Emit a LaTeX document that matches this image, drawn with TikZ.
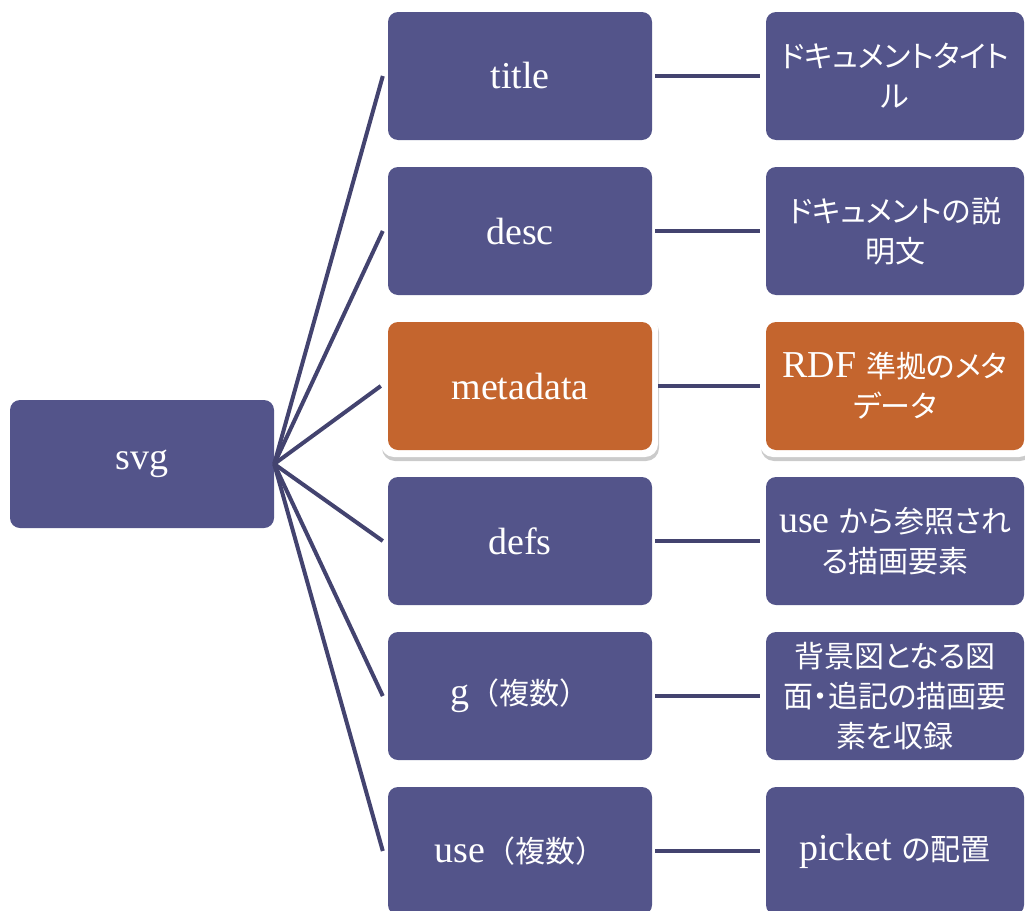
\documentclass[tikz,border=0pt]{standalone}
\usepackage{fontspec}
\setmainfont{Liberation Serif}
\newfontfamily\jpfont{Noto Sans CJK JP}[RawFeature=+palt]
\newfontfamily\jpfull{Noto Sans CJK JP}
\newcommand\J[1]{{\jpfont\fontsize{30}{40}\selectfont #1}}
\newcommand\JF[1]{{\jpfull\fontsize{30}{40}\selectfont #1}}
\usetikzlibrary{shadows}
\definecolor{boxblue}{HTML}{53548A}
\definecolor{boxorange}{HTML}{C4652E}
\definecolor{linecol}{HTML}{43436F}
\begin{document}
\begin{tikzpicture}[x=1pt,y=-1pt,
  box/.style={draw=none, fill=boxblue, rounded corners=10pt, minimum height=128pt,
    text=white, align=center, inner sep=2pt, font=\fontsize{38}{40}\selectfont},
  midbox/.style={box, minimum width=264pt},
  rightbox/.style={box, minimum width=258pt},
  hot/.style={fill=boxorange},
  frame/.style={fill=white, rounded corners=13pt, minimum height=142pt,
    drop shadow={shadow xshift=1pt, shadow yshift=-4pt, fill=black!45, opacity=0.45}},
  conn/.style={draw=linecol, line width=4pt}]
\useasboundingbox (0,0) rectangle (1025,910);
\clip (0,0) rectangle (1025,910);
% highlight frames
\node[frame, minimum width=277pt] (f3) at (519.5,386) {};
\node[frame, minimum width=272pt] (g3) at (896,386) {};
% nodes
\node[midbox] (svg) at (142,464) {svg};
\node[midbox] (m1) at (520,76) {title};
\node[midbox] (m2) at (520,231) {desc};
\node[midbox, hot] (m3) at (520,386) {metadata};
\node[midbox] (m4) at (520,541) {defs};
\node[midbox] (m5) at (520,696) {g\JF{（複数）}};
\node[midbox] (m6) at (520,851) {use\JF{（複数）}};
\node[rightbox] (r1) at (895,76) {\J{ドキュメントタイト}\\\J{ル}};
\node[rightbox] (r2) at (895,231) {\J{ドキュメントの説}\\\J{明文}};
\node[rightbox, hot] (r3) at (895,386) {RDF \J{準拠のメタ}\\\J{データ}};
\node[rightbox] (r4) at (895,541) {use \J{から参照され}\\\J{る描画要素}};
\node[rightbox] (r5) at (895,696) {\J{背景図となる図}\\\J{面・追記の描画要}\\\J{素を収録}};
\node[rightbox] (r6) at (895,851) {picket \J{の配置}};
% connectors
\draw[conn] (svg.east) -- ([xshift=-5pt]m1.west);
\draw[conn] (svg.east) -- ([xshift=-5pt]m2.west);
\draw[conn] (svg.east) -- (f3.west);
\draw[conn] (svg.east) -- ([xshift=-5pt]m4.west);
\draw[conn] (svg.east) -- ([xshift=-5pt]m5.west);
\draw[conn] (svg.east) -- ([xshift=-5pt]m6.west);
\draw[conn] ([xshift=3pt]m1.east) -- ([xshift=-6pt]r1.west);
\draw[conn] ([xshift=3pt]m2.east) -- ([xshift=-6pt]r2.west);
\draw[conn] (f3.east) -- (g3.west);
\draw[conn] ([xshift=3pt]m4.east) -- ([xshift=-6pt]r4.west);
\draw[conn] ([xshift=3pt]m5.east) -- ([xshift=-6pt]r5.west);
\draw[conn] ([xshift=3pt]m6.east) -- ([xshift=-6pt]r6.west);
\end{tikzpicture}
\end{document}
